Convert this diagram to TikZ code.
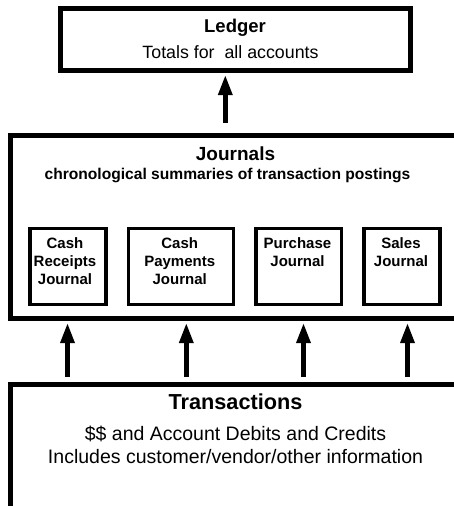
\documentclass[tikz,border=0pt]{standalone}
\usepackage{fontspec}
\setmainfont{Liberation Sans}
\usetikzlibrary{arrows.meta}
\tikzset{
  bigbox/.style={draw, line width=5pt, inner sep=0pt, outer sep=2.5pt},
  subbox/.style={draw, line width=3.5pt, inner sep=0pt, outer sep=1.75pt, minimum height=76pt},
  txt/.style={inner sep=0pt, anchor=base, align=center},
  subtxt/.style={txt, font=\bfseries\fontsize{15}{18}\selectfont},
  arr/.style={line width=4.5pt, -{Triangle[length=20pt,width=13.5pt]}}
}
\begin{document}
\begin{tikzpicture}[x=1pt,y=-1pt]
\useasboundingbox (0,0) rectangle (454,506);
\clip (0,0) rectangle (454,506);
% boxes
\node[bigbox, minimum width=350pt, minimum height=62pt] (ledger) at (235.5,39.5) {};
\node[bigbox, minimum width=469.2pt, minimum height=183pt] (jour) at (245.4,227) {};
\node[bigbox, minimum width=469.2pt, minimum height=155.5pt] (trans) at (245.4,462.25) {};
\node[subbox, minimum width=76pt] (cr) at (67.75,266.25) {};
\node[subbox, minimum width=105.1pt] (cp) at (181,266.25) {};
\node[subbox, minimum width=85.5pt] (pj) at (298.8,266.25) {};
\node[subbox, minimum width=75.9pt] (sj) at (402,266.25) {};
% texts
\node[txt, font=\bfseries\fontsize{18.5}{22}\selectfont] (ledgert) at (235,32.3) {Ledger};
\node[txt, font=\fontsize{17.8}{21}\selectfont] (ledgers) at (230.5,58) {Totals for\ \ all accounts};
\node[txt, font=\bfseries\fontsize{19}{22}\selectfont] (jourt) at (235.5,160.7) {Journals};
\node[txt, font=\bfseries\fontsize{15.6}{18}\selectfont] (jours) at (227.5,179.3) {chronological summaries of transaction postings};
\node[subtxt] (crt) at (65,284) {Cash\\Receipts\\Journal};
\node[subtxt] (cpt) at (179.7,284) {Cash\\Payments\\Journal};
\node[subtxt] (pjt) at (297.5,266) {Purchase\\Journal};
\node[subtxt] (sjt) at (401,266) {Sales\\Journal};
\node[txt, font=\bfseries\fontsize{21.7}{25}\selectfont] (transt) at (235.5,409) {Transactions};
\node[txt, font=\fontsize{19.5}{23}\selectfont] (transs) at (235.5,463) {\$\$ and Account Debits and Credits\\Includes customer/vendor/other information};
% arrow positions
\coordinate (a0) at (225.3,0);
\coordinate (a1) at (67.5,0);
\coordinate (a2) at (186.3,0);
\coordinate (a3) at (303.5,0);
\coordinate (a4) at (407.5,0);
% arrows
\draw[arr, shorten <=10pt, shorten >=2pt] (jour.north -| a0) -- (ledger.south -| a0);
\foreach \a in {a1,a2,a3,a4}
  \draw[arr, shorten <=5pt, shorten >=2pt] (trans.north -| \a) -- (jour.south -| \a);
\end{tikzpicture}
\end{document}
